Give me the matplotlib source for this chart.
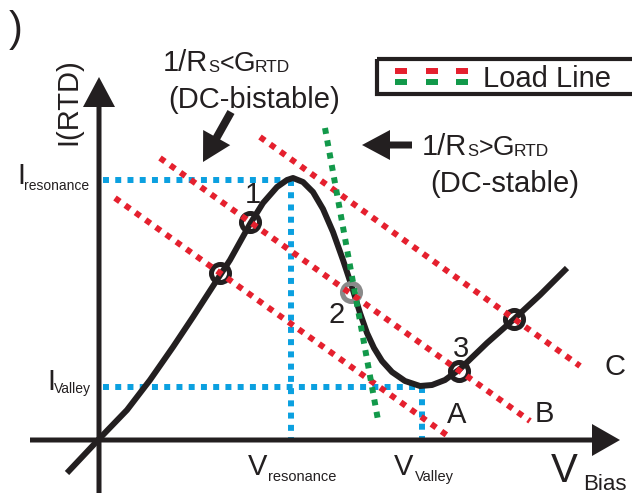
import matplotlib
matplotlib.use("Agg")
import matplotlib.pyplot as plt
from matplotlib.patches import FancyArrow, Rectangle

plt.rcParams["font.family"] = ["Liberation Sans", "DejaVu Sans"]

# schematic drawn in picture coordinates (x right, y down)
curve_x = [67, 100, 127, 150, 173, 193, 215, 230, 240, 250, 263, 277, 287, 293, 303,
           313, 323, 333, 343, 352, 360, 367, 374, 382, 392, 405, 420, 432, 445, 460,
           487, 513, 540, 567]
curve_y = [473, 438, 410, 380, 347, 317, 283, 260, 242, 224, 203, 187, 180, 178, 182,
           192, 209, 232, 260, 287, 313, 333, 348, 361, 372, 381, 386, 385, 380, 369,
           343, 320, 295, 268]

# operating points (black) and the unstable one (gray)
op_x = [220, 250, 459, 514]
op_y = [273, 222, 371, 319]
unstable_x = [351]
unstable_y = [292]

# red load lines A, B, C: start and end
load_names = ["A", "B", "C"]
load_x0 = [115, 160, 260]
load_y0 = [198, 158, 137]
load_x1 = [448, 530, 580]
load_y1 = [436, 421, 366]
load_lbl_x = [447, 535, 605]
load_lbl_y = [423, 422, 375]

# green steep load line
green_x = [325, 378]
green_y = [128, 420]

# resonance / valley guides
v_res, i_res = 291, 180
v_val, i_val = 422, 387
axis_x0, axis_y0 = 99, 440

point_names = ["1", "2", "3"]
point_lbl_x = [245, 328, 453]
point_lbl_y = [203, 323, 357]

legend_x = [395, 426, 456]

# text pieces: (text, size, left x, baseline y)
text_parts = [
    ("I", 21, 17, 184), ("resonance", 10, 24, 190),
    ("I", 21, 47, 390), ("Valley", 10, 54, 393),
    ("V", 21, 248, 475), ("resonance", 10.5, 268, 481),
    ("V", 21, 394, 475), ("Valley", 10.5, 415, 481),
    ("V", 29, 551, 482), ("Bias", 16, 583, 490),
    ("1/R", 21, 163, 71), ("S", 12, 208, 72), ("<", 18, 220, 71), ("G", 20, 234, 71),
    ("RTD", 12.5, 255, 72),
    ("(DC-bistable)", 21, 168, 108),
    ("1/R", 21, 422, 155), ("S", 12, 467, 156), (">", 18, 479, 155), ("G", 20, 493, 155),
    ("RTD", 12.5, 514, 156),
    ("(DC-stable)", 21, 430, 192),
    ("Load Line", 21, 483, 87),
]

red = "#e5202e"
green = "#12994a"
blue = "#0ba0e0"
ink = "#231f20"

fig = plt.figure(figsize=(6.32, 4.96), dpi=100)
ax = fig.add_axes([0, 0, 1, 1])
ax.set_xlim(0, 632)
ax.set_ylim(496, 0)
ax.axis("off")

dot = dict(lw=4.3, dash_capstyle="butt")

# guides
ax.plot([103, v_res], [i_res, i_res], color=blue, ls=(0, (1, 1.05)), **dot, zorder=1)
ax.plot([v_res, v_res], [i_res, axis_y0], color=blue, ls=(0, (1, 1.05)), **dot, zorder=1)
ax.plot([103, v_val], [i_val, i_val], color=blue, ls=(0, (1, 1.05)), **dot, zorder=1)
ax.plot([v_val, v_val], [i_val, axis_y0], color=blue, ls=(0, (1, 1.05)), **dot, zorder=1)

# axes with arrows
ax.add_patch(FancyArrow(axis_x0, 493, 0, -416, width=5, head_width=32, head_length=30,
                        length_includes_head=True, color=ink, lw=0, zorder=2))
ax.add_patch(FancyArrow(30, axis_y0, 590, 0, width=5, head_width=32, head_length=28,
                        length_includes_head=True, color=ink, lw=0, zorder=2))

# I-V curve
ax.plot(curve_x, curve_y, color=ink, lw=4.3, solid_joinstyle="round",
        solid_capstyle="butt", zorder=3)

# circles
ax.plot(op_x, op_y, "o", ms=13, mfc="none", mec=ink, mew=3.6, zorder=4)
ax.plot(unstable_x, unstable_y, "o", ms=13, mfc="none", mec="#8a8a8a", mew=3.6, zorder=4)

# load lines
for x0, y0, x1, y1, name, lx, ly in zip(load_x0, load_y0, load_x1, load_y1,
                                        load_names, load_lbl_x, load_lbl_y):
    ax.plot([x0, x1], [y0, y1], color=red, ls=(0, (1, 1.1)), **dot, zorder=5)
    ax.text(lx, ly, name, fontsize=21, color=ink, ha="left", va="baseline")
ax.plot(green_x, green_y, color=green, ls=(0, (1, 1.1)), **dot, zorder=5)

for name, lx, ly in zip(point_names, point_lbl_x, point_lbl_y):
    ax.text(lx, ly, name, fontsize=21, color=ink, ha="left", va="baseline")

# labels and annotations
ax.text(68, 102, "I(RTD)", fontsize=21, color=ink, rotation=90, ha="center", va="center")
ax.text(16, 30, ")", fontsize=30, color=ink, ha="center", va="center")
for s, size, x, y in text_parts:
    ax.text(x, y, s, fontsize=size, color=ink, ha="left", va="baseline")

ax.add_patch(FancyArrow(231, 112, -28, 50, width=8, head_width=31, head_length=28,
                        length_includes_head=True, color=ink, lw=0))
ax.add_patch(FancyArrow(412, 145, -50, 0, width=7, head_width=30, head_length=28,
                        length_includes_head=True, color=ink, lw=0))

# legend box
ax.add_patch(Rectangle((377, 59), 280, 35, fill=False, ec=ink, lw=3))
for x0 in legend_x:
    ax.plot([x0, x0 + 12], [71, 71], color=red, lw=4.3, solid_capstyle="butt")
    ax.plot([x0, x0 + 12], [82, 82], color=green, lw=4.3, solid_capstyle="butt")

fig.savefig("out.png", dpi=100)
